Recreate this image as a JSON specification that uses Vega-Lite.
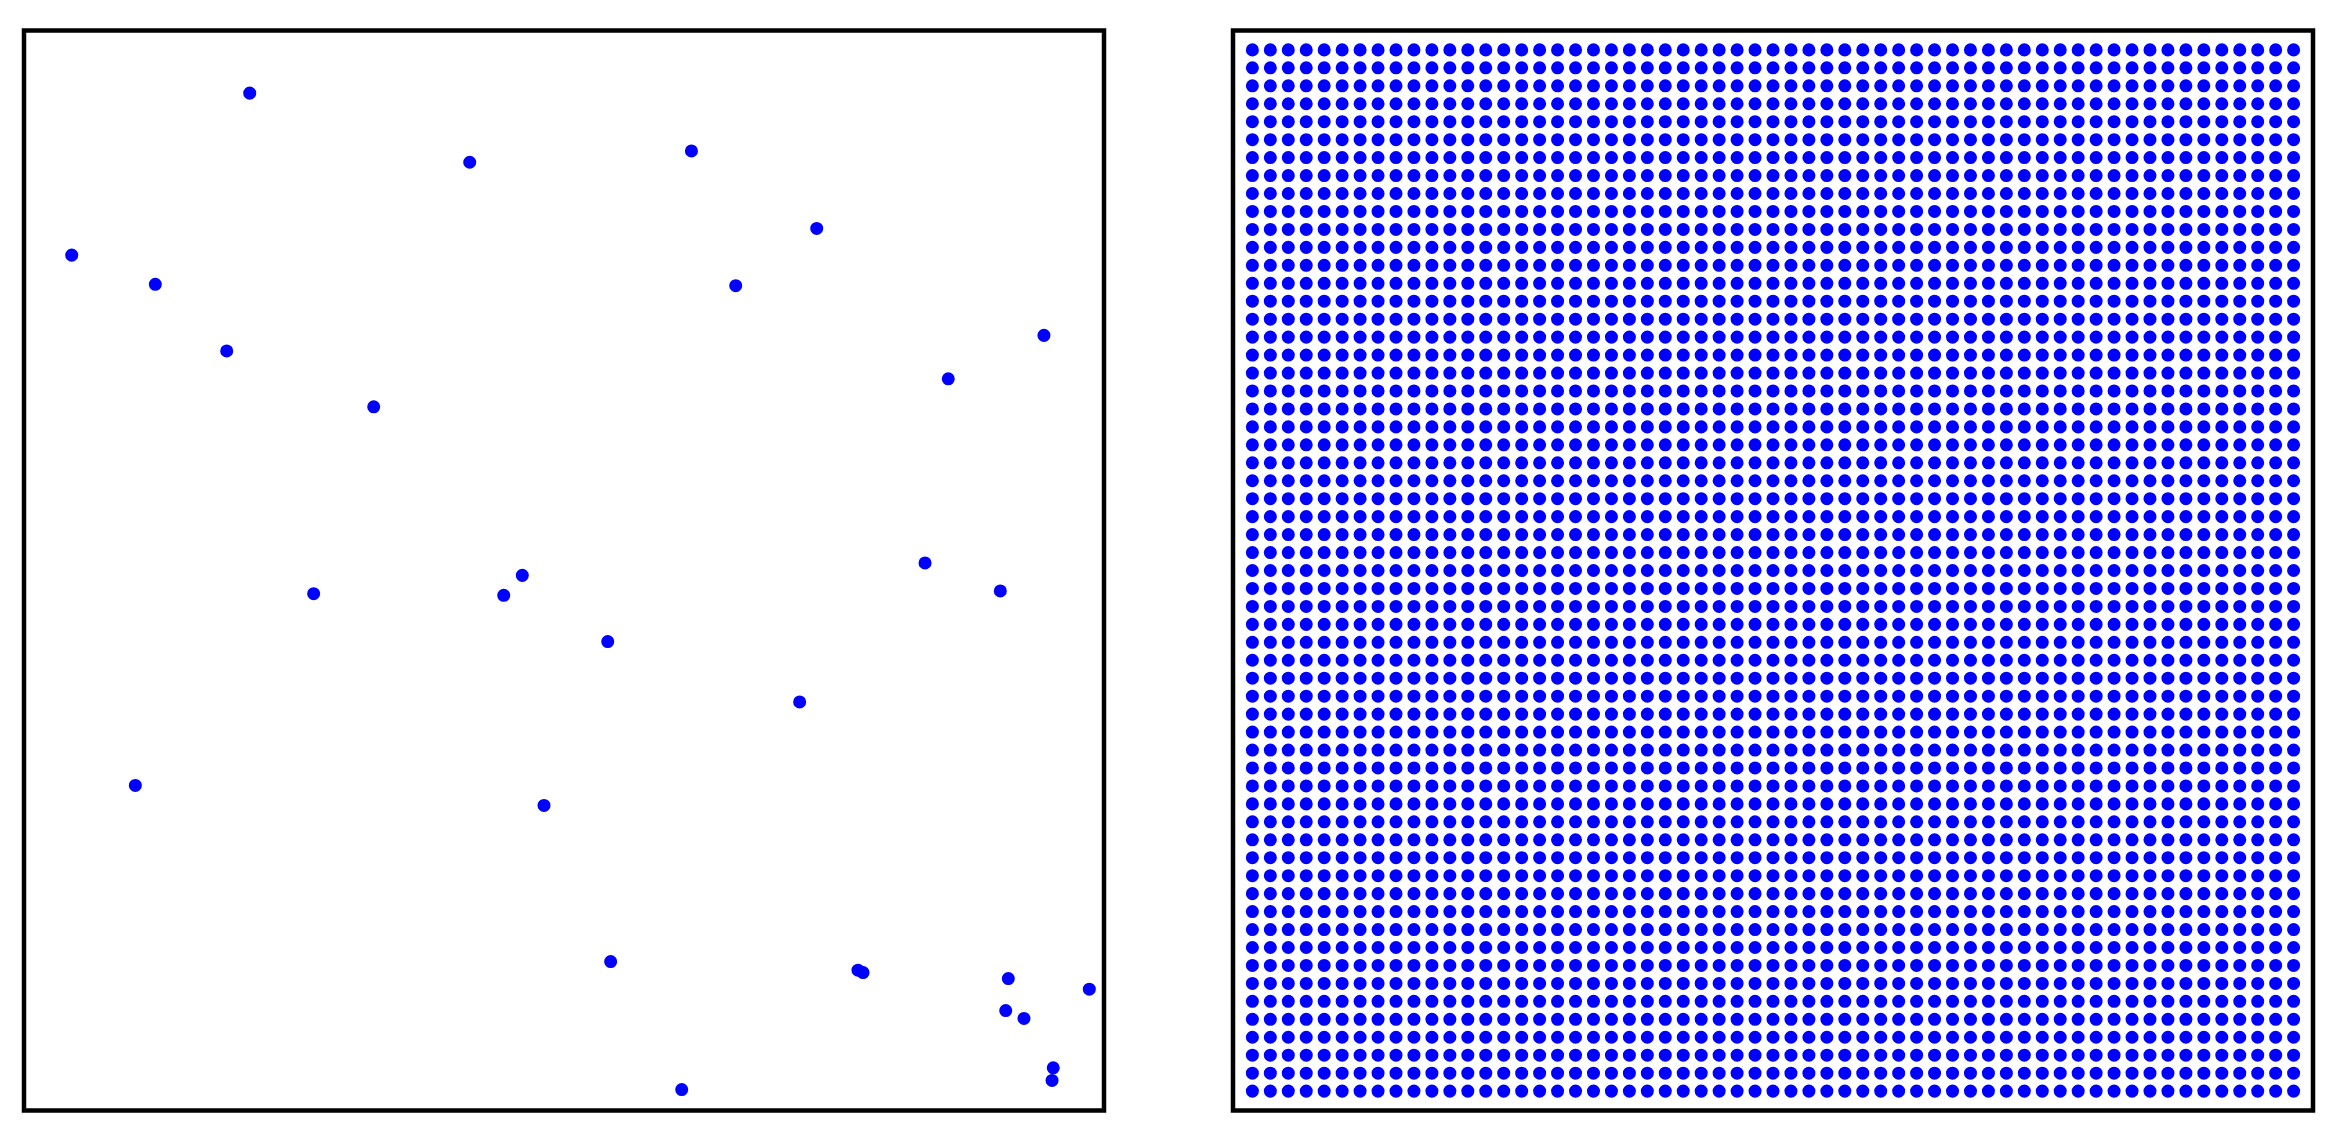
{
"$schema": "https://vega.github.io/schema/vega-lite/v6.json",
"background": "white",
"padding": {"left": 21, "top": 27.5, "right": 20, "bottom": 20},
"spacing": 123,
"config": {"view": {"stroke": "black", "strokeWidth": 4.5}},
"hconcat": [
{
"width": 1080, "height": 1080,
"view": {"stroke": "black", "strokeWidth": 4.5},
"data": {"values": [
{"x":0.209,"y":0.942},{"x":0.4127,"y":0.878},{"x":0.618,"y":0.8885},{"x":0.734,"y":0.8167},
{"x":0.0442,"y":0.792},{"x":0.1216,"y":0.765},{"x":0.659,"y":0.7637},{"x":0.1877,"y":0.7033},
{"x":0.9444,"y":0.7177},{"x":0.8558,"y":0.6775},{"x":0.3238,"y":0.6516},{"x":0.8343,"y":0.507},
{"x":0.4614,"y":0.4955},{"x":0.2682,"y":0.4785},{"x":0.4442,"y":0.477},{"x":0.904,"y":0.4811},
{"x":0.5405,"y":0.4342},{"x":0.7182,"y":0.3783},{"x":0.1031,"y":0.301},{"x":0.4815,"y":0.2825},
{"x":0.5432,"y":0.1379},{"x":0.7722,"y":0.1299},{"x":0.7769,"y":0.1277},{"x":0.9114,"y":0.1222},
{"x":0.9864,"y":0.1123},{"x":0.909,"y":0.0925},{"x":0.9259,"y":0.0852},{"x":0.953,"y":0.0395},
{"x":0.9519,"y":0.0278},{"x":0.609,"y":0.0194}
]},
"mark": {"type": "circle", "size": 170, "color": "#0000ff", "opacity": 1},
"encoding": {
"x": {"field": "x", "type": "quantitative", "scale": {"domain": [0, 1], "nice": false, "zero": false}, "axis": null},
"y": {"field": "y", "type": "quantitative", "scale": {"domain": [0, 1], "nice": false, "zero": false}, "axis": null}
}
},
{
"width": 1080, "height": 1080,
"view": {"stroke": "black", "strokeWidth": 4.5},
"data": {"values": [
{"r":0,"c":[0,1,2,3,4,5,6,7,8,9,10,11,12,13,14,15,16,17,18,19,20,21,22,23,24,25,26,27,28,29,30,31,32,33,34,35,36,37,38,39,40,41,42,43,44,45,46,47,48,49,50,51,52,53,54,55,56,57,58]},
{"r":1,"c":[0,1,2,3,4,5,6,7,8,9,10,11,12,13,14,15,16,17,18,19,20,21,22,23,24,25,26,27,28,29,30,31,32,33,34,35,36,37,38,39,40,41,42,43,44,45,46,47,48,49,50,51,52,53,54,55,56,57,58]},
{"r":2,"c":[0,1,2,3,4,5,6,7,8,9,10,11,12,13,14,15,16,17,18,19,20,21,22,23,24,25,26,27,28,29,30,31,32,33,34,35,36,37,38,39,40,41,42,43,44,45,46,47,48,49,50,51,52,53,54,55,56,57,58]},
{"r":3,"c":[0,1,2,3,4,5,6,7,8,9,10,11,12,13,14,15,16,17,18,19,20,21,22,23,24,25,26,27,28,29,30,31,32,33,34,35,36,37,38,39,40,41,42,43,44,45,46,47,48,49,50,51,52,53,54,55,56,57,58]},
{"r":4,"c":[0,1,2,3,4,5,6,7,8,9,10,11,12,13,14,15,16,17,18,19,20,21,22,23,24,25,26,27,28,29,30,31,32,33,34,35,36,37,38,39,40,41,42,43,44,45,46,47,48,49,50,51,52,53,54,55,56,57,58]},
{"r":5,"c":[0,1,2,3,4,5,6,7,8,9,10,11,12,13,14,15,16,17,18,19,20,21,22,23,24,25,26,27,28,29,30,31,32,33,34,35,36,37,38,39,40,41,42,43,44,45,46,47,48,49,50,51,52,53,54,55,56,57,58]},
{"r":6,"c":[0,1,2,3,4,5,6,7,8,9,10,11,12,13,14,15,16,17,18,19,20,21,22,23,24,25,26,27,28,29,30,31,32,33,34,35,36,37,38,39,40,41,42,43,44,45,46,47,48,49,50,51,52,53,54,55,56,57,58]},
{"r":7,"c":[0,1,2,3,4,5,6,7,8,9,10,11,12,13,14,15,16,17,18,19,20,21,22,23,24,25,26,27,28,29,30,31,32,33,34,35,36,37,38,39,40,41,42,43,44,45,46,47,48,49,50,51,52,53,54,55,56,57,58]},
{"r":8,"c":[0,1,2,3,4,5,6,7,8,9,10,11,12,13,14,15,16,17,18,19,20,21,22,23,24,25,26,27,28,29,30,31,32,33,34,35,36,37,38,39,40,41,42,43,44,45,46,47,48,49,50,51,52,53,54,55,56,57,58]},
{"r":9,"c":[0,1,2,3,4,5,6,7,8,9,10,11,12,13,14,15,16,17,18,19,20,21,22,23,24,25,26,27,28,29,30,31,32,33,34,35,36,37,38,39,40,41,42,43,44,45,46,47,48,49,50,51,52,53,54,55,56,57,58]},
{"r":10,"c":[0,1,2,3,4,5,6,7,8,9,10,11,12,13,14,15,16,17,18,19,20,21,22,23,24,25,26,27,28,29,30,31,32,33,34,35,36,37,38,39,40,41,42,43,44,45,46,47,48,49,50,51,52,53,54,55,56,57,58]},
{"r":11,"c":[0,1,2,3,4,5,6,7,8,9,10,11,12,13,14,15,16,17,18,19,20,21,22,23,24,25,26,27,28,29,30,31,32,33,34,35,36,37,38,39,40,41,42,43,44,45,46,47,48,49,50,51,52,53,54,55,56,57,58]},
{"r":12,"c":[0,1,2,3,4,5,6,7,8,9,10,11,12,13,14,15,16,17,18,19,20,21,22,23,24,25,26,27,28,29,30,31,32,33,34,35,36,37,38,39,40,41,42,43,44,45,46,47,48,49,50,51,52,53,54,55,56,57,58]},
{"r":13,"c":[0,1,2,3,4,5,6,7,8,9,10,11,12,13,14,15,16,17,18,19,20,21,22,23,24,25,26,27,28,29,30,31,32,33,34,35,36,37,38,39,40,41,42,43,44,45,46,47,48,49,50,51,52,53,54,55,56,57,58]},
{"r":14,"c":[0,1,2,3,4,5,6,7,8,9,10,11,12,13,14,15,16,17,18,19,20,21,22,23,24,25,26,27,28,29,30,31,32,33,34,35,36,37,38,39,40,41,42,43,44,45,46,47,48,49,50,51,52,53,54,55,56,57,58]},
{"r":15,"c":[0,1,2,3,4,5,6,7,8,9,10,11,12,13,14,15,16,17,18,19,20,21,22,23,24,25,26,27,28,29,30,31,32,33,34,35,36,37,38,39,40,41,42,43,44,45,46,47,48,49,50,51,52,53,54,55,56,57,58]},
{"r":16,"c":[0,1,2,3,4,5,6,7,8,9,10,11,12,13,14,15,16,17,18,19,20,21,22,23,24,25,26,27,28,29,30,31,32,33,34,35,36,37,38,39,40,41,42,43,44,45,46,47,48,49,50,51,52,53,54,55,56,57,58]},
{"r":17,"c":[0,1,2,3,4,5,6,7,8,9,10,11,12,13,14,15,16,17,18,19,20,21,22,23,24,25,26,27,28,29,30,31,32,33,34,35,36,37,38,39,40,41,42,43,44,45,46,47,48,49,50,51,52,53,54,55,56,57,58]},
{"r":18,"c":[0,1,2,3,4,5,6,7,8,9,10,11,12,13,14,15,16,17,18,19,20,21,22,23,24,25,26,27,28,29,30,31,32,33,34,35,36,37,38,39,40,41,42,43,44,45,46,47,48,49,50,51,52,53,54,55,56,57,58]},
{"r":19,"c":[0,1,2,3,4,5,6,7,8,9,10,11,12,13,14,15,16,17,18,19,20,21,22,23,24,25,26,27,28,29,30,31,32,33,34,35,36,37,38,39,40,41,42,43,44,45,46,47,48,49,50,51,52,53,54,55,56,57,58]},
{"r":20,"c":[0,1,2,3,4,5,6,7,8,9,10,11,12,13,14,15,16,17,18,19,20,21,22,23,24,25,26,27,28,29,30,31,32,33,34,35,36,37,38,39,40,41,42,43,44,45,46,47,48,49,50,51,52,53,54,55,56,57,58]},
{"r":21,"c":[0,1,2,3,4,5,6,7,8,9,10,11,12,13,14,15,16,17,18,19,20,21,22,23,24,25,26,27,28,29,30,31,32,33,34,35,36,37,38,39,40,41,42,43,44,45,46,47,48,49,50,51,52,53,54,55,56,57,58]},
{"r":22,"c":[0,1,2,3,4,5,6,7,8,9,10,11,12,13,14,15,16,17,18,19,20,21,22,23,24,25,26,27,28,29,30,31,32,33,34,35,36,37,38,39,40,41,42,43,44,45,46,47,48,49,50,51,52,53,54,55,56,57,58]},
{"r":23,"c":[0,1,2,3,4,5,6,7,8,9,10,11,12,13,14,15,16,17,18,19,20,21,22,23,24,25,26,27,28,29,30,31,32,33,34,35,36,37,38,39,40,41,42,43,44,45,46,47,48,49,50,51,52,53,54,55,56,57,58]},
{"r":24,"c":[0,1,2,3,4,5,6,7,8,9,10,11,12,13,14,15,16,17,18,19,20,21,22,23,24,25,26,27,28,29,30,31,32,33,34,35,36,37,38,39,40,41,42,43,44,45,46,47,48,49,50,51,52,53,54,55,56,57,58]},
{"r":25,"c":[0,1,2,3,4,5,6,7,8,9,10,11,12,13,14,15,16,17,18,19,20,21,22,23,24,25,26,27,28,29,30,31,32,33,34,35,36,37,38,39,40,41,42,43,44,45,46,47,48,49,50,51,52,53,54,55,56,57,58]},
{"r":26,"c":[0,1,2,3,4,5,6,7,8,9,10,11,12,13,14,15,16,17,18,19,20,21,22,23,24,25,26,27,28,29,30,31,32,33,34,35,36,37,38,39,40,41,42,43,44,45,46,47,48,49,50,51,52,53,54,55,56,57,58]},
{"r":27,"c":[0,1,2,3,4,5,6,7,8,9,10,11,12,13,14,15,16,17,18,19,20,21,22,23,24,25,26,27,28,29,30,31,32,33,34,35,36,37,38,39,40,41,42,43,44,45,46,47,48,49,50,51,52,53,54,55,56,57,58]},
{"r":28,"c":[0,1,2,3,4,5,6,7,8,9,10,11,12,13,14,15,16,17,18,19,20,21,22,23,24,25,26,27,28,29,30,31,32,33,34,35,36,37,38,39,40,41,42,43,44,45,46,47,48,49,50,51,52,53,54,55,56,57,58]},
{"r":29,"c":[0,1,2,3,4,5,6,7,8,9,10,11,12,13,14,15,16,17,18,19,20,21,22,23,24,25,26,27,28,29,30,31,32,33,34,35,36,37,38,39,40,41,42,43,44,45,46,47,48,49,50,51,52,53,54,55,56,57,58]},
{"r":30,"c":[0,1,2,3,4,5,6,7,8,9,10,11,12,13,14,15,16,17,18,19,20,21,22,23,24,25,26,27,28,29,30,31,32,33,34,35,36,37,38,39,40,41,42,43,44,45,46,47,48,49,50,51,52,53,54,55,56,57,58]},
{"r":31,"c":[0,1,2,3,4,5,6,7,8,9,10,11,12,13,14,15,16,17,18,19,20,21,22,23,24,25,26,27,28,29,30,31,32,33,34,35,36,37,38,39,40,41,42,43,44,45,46,47,48,49,50,51,52,53,54,55,56,57,58]},
{"r":32,"c":[0,1,2,3,4,5,6,7,8,9,10,11,12,13,14,15,16,17,18,19,20,21,22,23,24,25,26,27,28,29,30,31,32,33,34,35,36,37,38,39,40,41,42,43,44,45,46,47,48,49,50,51,52,53,54,55,56,57,58]},
{"r":33,"c":[0,1,2,3,4,5,6,7,8,9,10,11,12,13,14,15,16,17,18,19,20,21,22,23,24,25,26,27,28,29,30,31,32,33,34,35,36,37,38,39,40,41,42,43,44,45,46,47,48,49,50,51,52,53,54,55,56,57,58]},
{"r":34,"c":[0,1,2,3,4,5,6,7,8,9,10,11,12,13,14,15,16,17,18,19,20,21,22,23,24,25,26,27,28,29,30,31,32,33,34,35,36,37,38,39,40,41,42,43,44,45,46,47,48,49,50,51,52,53,54,55,56,57,58]},
{"r":35,"c":[0,1,2,3,4,5,6,7,8,9,10,11,12,13,14,15,16,17,18,19,20,21,22,23,24,25,26,27,28,29,30,31,32,33,34,35,36,37,38,39,40,41,42,43,44,45,46,47,48,49,50,51,52,53,54,55,56,57,58]},
{"r":36,"c":[0,1,2,3,4,5,6,7,8,9,10,11,12,13,14,15,16,17,18,19,20,21,22,23,24,25,26,27,28,29,30,31,32,33,34,35,36,37,38,39,40,41,42,43,44,45,46,47,48,49,50,51,52,53,54,55,56,57,58]},
{"r":37,"c":[0,1,2,3,4,5,6,7,8,9,10,11,12,13,14,15,16,17,18,19,20,21,22,23,24,25,26,27,28,29,30,31,32,33,34,35,36,37,38,39,40,41,42,43,44,45,46,47,48,49,50,51,52,53,54,55,56,57,58]},
{"r":38,"c":[0,1,2,3,4,5,6,7,8,9,10,11,12,13,14,15,16,17,18,19,20,21,22,23,24,25,26,27,28,29,30,31,32,33,34,35,36,37,38,39,40,41,42,43,44,45,46,47,48,49,50,51,52,53,54,55,56,57,58]},
{"r":39,"c":[0,1,2,3,4,5,6,7,8,9,10,11,12,13,14,15,16,17,18,19,20,21,22,23,24,25,26,27,28,29,30,31,32,33,34,35,36,37,38,39,40,41,42,43,44,45,46,47,48,49,50,51,52,53,54,55,56,57,58]},
{"r":40,"c":[0,1,2,3,4,5,6,7,8,9,10,11,12,13,14,15,16,17,18,19,20,21,22,23,24,25,26,27,28,29,30,31,32,33,34,35,36,37,38,39,40,41,42,43,44,45,46,47,48,49,50,51,52,53,54,55,56,57,58]},
{"r":41,"c":[0,1,2,3,4,5,6,7,8,9,10,11,12,13,14,15,16,17,18,19,20,21,22,23,24,25,26,27,28,29,30,31,32,33,34,35,36,37,38,39,40,41,42,43,44,45,46,47,48,49,50,51,52,53,54,55,56,57,58]},
{"r":42,"c":[0,1,2,3,4,5,6,7,8,9,10,11,12,13,14,15,16,17,18,19,20,21,22,23,24,25,26,27,28,29,30,31,32,33,34,35,36,37,38,39,40,41,42,43,44,45,46,47,48,49,50,51,52,53,54,55,56,57,58]},
{"r":43,"c":[0,1,2,3,4,5,6,7,8,9,10,11,12,13,14,15,16,17,18,19,20,21,22,23,24,25,26,27,28,29,30,31,32,33,34,35,36,37,38,39,40,41,42,43,44,45,46,47,48,49,50,51,52,53,54,55,56,57,58]},
{"r":44,"c":[0,1,2,3,4,5,6,7,8,9,10,11,12,13,14,15,16,17,18,19,20,21,22,23,24,25,26,27,28,29,30,31,32,33,34,35,36,37,38,39,40,41,42,43,44,45,46,47,48,49,50,51,52,53,54,55,56,57,58]},
{"r":45,"c":[0,1,2,3,4,5,6,7,8,9,10,11,12,13,14,15,16,17,18,19,20,21,22,23,24,25,26,27,28,29,30,31,32,33,34,35,36,37,38,39,40,41,42,43,44,45,46,47,48,49,50,51,52,53,54,55,56,57,58]},
{"r":46,"c":[0,1,2,3,4,5,6,7,8,9,10,11,12,13,14,15,16,17,18,19,20,21,22,23,24,25,26,27,28,29,30,31,32,33,34,35,36,37,38,39,40,41,42,43,44,45,46,47,48,49,50,51,52,53,54,55,56,57,58]},
{"r":47,"c":[0,1,2,3,4,5,6,7,8,9,10,11,12,13,14,15,16,17,18,19,20,21,22,23,24,25,26,27,28,29,30,31,32,33,34,35,36,37,38,39,40,41,42,43,44,45,46,47,48,49,50,51,52,53,54,55,56,57,58]},
{"r":48,"c":[0,1,2,3,4,5,6,7,8,9,10,11,12,13,14,15,16,17,18,19,20,21,22,23,24,25,26,27,28,29,30,31,32,33,34,35,36,37,38,39,40,41,42,43,44,45,46,47,48,49,50,51,52,53,54,55,56,57,58]},
{"r":49,"c":[0,1,2,3,4,5,6,7,8,9,10,11,12,13,14,15,16,17,18,19,20,21,22,23,24,25,26,27,28,29,30,31,32,33,34,35,36,37,38,39,40,41,42,43,44,45,46,47,48,49,50,51,52,53,54,55,56,57,58]},
{"r":50,"c":[0,1,2,3,4,5,6,7,8,9,10,11,12,13,14,15,16,17,18,19,20,21,22,23,24,25,26,27,28,29,30,31,32,33,34,35,36,37,38,39,40,41,42,43,44,45,46,47,48,49,50,51,52,53,54,55,56,57,58]},
{"r":51,"c":[0,1,2,3,4,5,6,7,8,9,10,11,12,13,14,15,16,17,18,19,20,21,22,23,24,25,26,27,28,29,30,31,32,33,34,35,36,37,38,39,40,41,42,43,44,45,46,47,48,49,50,51,52,53,54,55,56,57,58]},
{"r":52,"c":[0,1,2,3,4,5,6,7,8,9,10,11,12,13,14,15,16,17,18,19,20,21,22,23,24,25,26,27,28,29,30,31,32,33,34,35,36,37,38,39,40,41,42,43,44,45,46,47,48,49,50,51,52,53,54,55,56,57,58]},
{"r":53,"c":[0,1,2,3,4,5,6,7,8,9,10,11,12,13,14,15,16,17,18,19,20,21,22,23,24,25,26,27,28,29,30,31,32,33,34,35,36,37,38,39,40,41,42,43,44,45,46,47,48,49,50,51,52,53,54,55,56,57,58]},
{"r":54,"c":[0,1,2,3,4,5,6,7,8,9,10,11,12,13,14,15,16,17,18,19,20,21,22,23,24,25,26,27,28,29,30,31,32,33,34,35,36,37,38,39,40,41,42,43,44,45,46,47,48,49,50,51,52,53,54,55,56,57,58]},
{"r":55,"c":[0,1,2,3,4,5,6,7,8,9,10,11,12,13,14,15,16,17,18,19,20,21,22,23,24,25,26,27,28,29,30,31,32,33,34,35,36,37,38,39,40,41,42,43,44,45,46,47,48,49,50,51,52,53,54,55,56,57,58]},
{"r":56,"c":[0,1,2,3,4,5,6,7,8,9,10,11,12,13,14,15,16,17,18,19,20,21,22,23,24,25,26,27,28,29,30,31,32,33,34,35,36,37,38,39,40,41,42,43,44,45,46,47,48,49,50,51,52,53,54,55,56,57,58]},
{"r":57,"c":[0,1,2,3,4,5,6,7,8,9,10,11,12,13,14,15,16,17,18,19,20,21,22,23,24,25,26,27,28,29,30,31,32,33,34,35,36,37,38,39,40,41,42,43,44,45,46,47,48,49,50,51,52,53,54,55,56,57,58]},
{"r":58,"c":[0,1,2,3,4,5,6,7,8,9,10,11,12,13,14,15,16,17,18,19,20,21,22,23,24,25,26,27,28,29,30,31,32,33,34,35,36,37,38,39,40,41,42,43,44,45,46,47,48,49,50,51,52,53,54,55,56,57,58]}
]},
"transform": [{"flatten": ["c"]}],
"mark": {"type": "circle", "size": 170, "color": "#0000ff", "opacity": 1},
"encoding": {
"x": {"field": "c", "type": "quantitative", "scale": {"domain": [-1.08, 59.08], "nice": false, "zero": false}, "axis": null},
"y": {"field": "r", "type": "quantitative", "scale": {"domain": [-1.08, 59.08], "nice": false, "zero": false}, "axis": null}
}
}
]
}
